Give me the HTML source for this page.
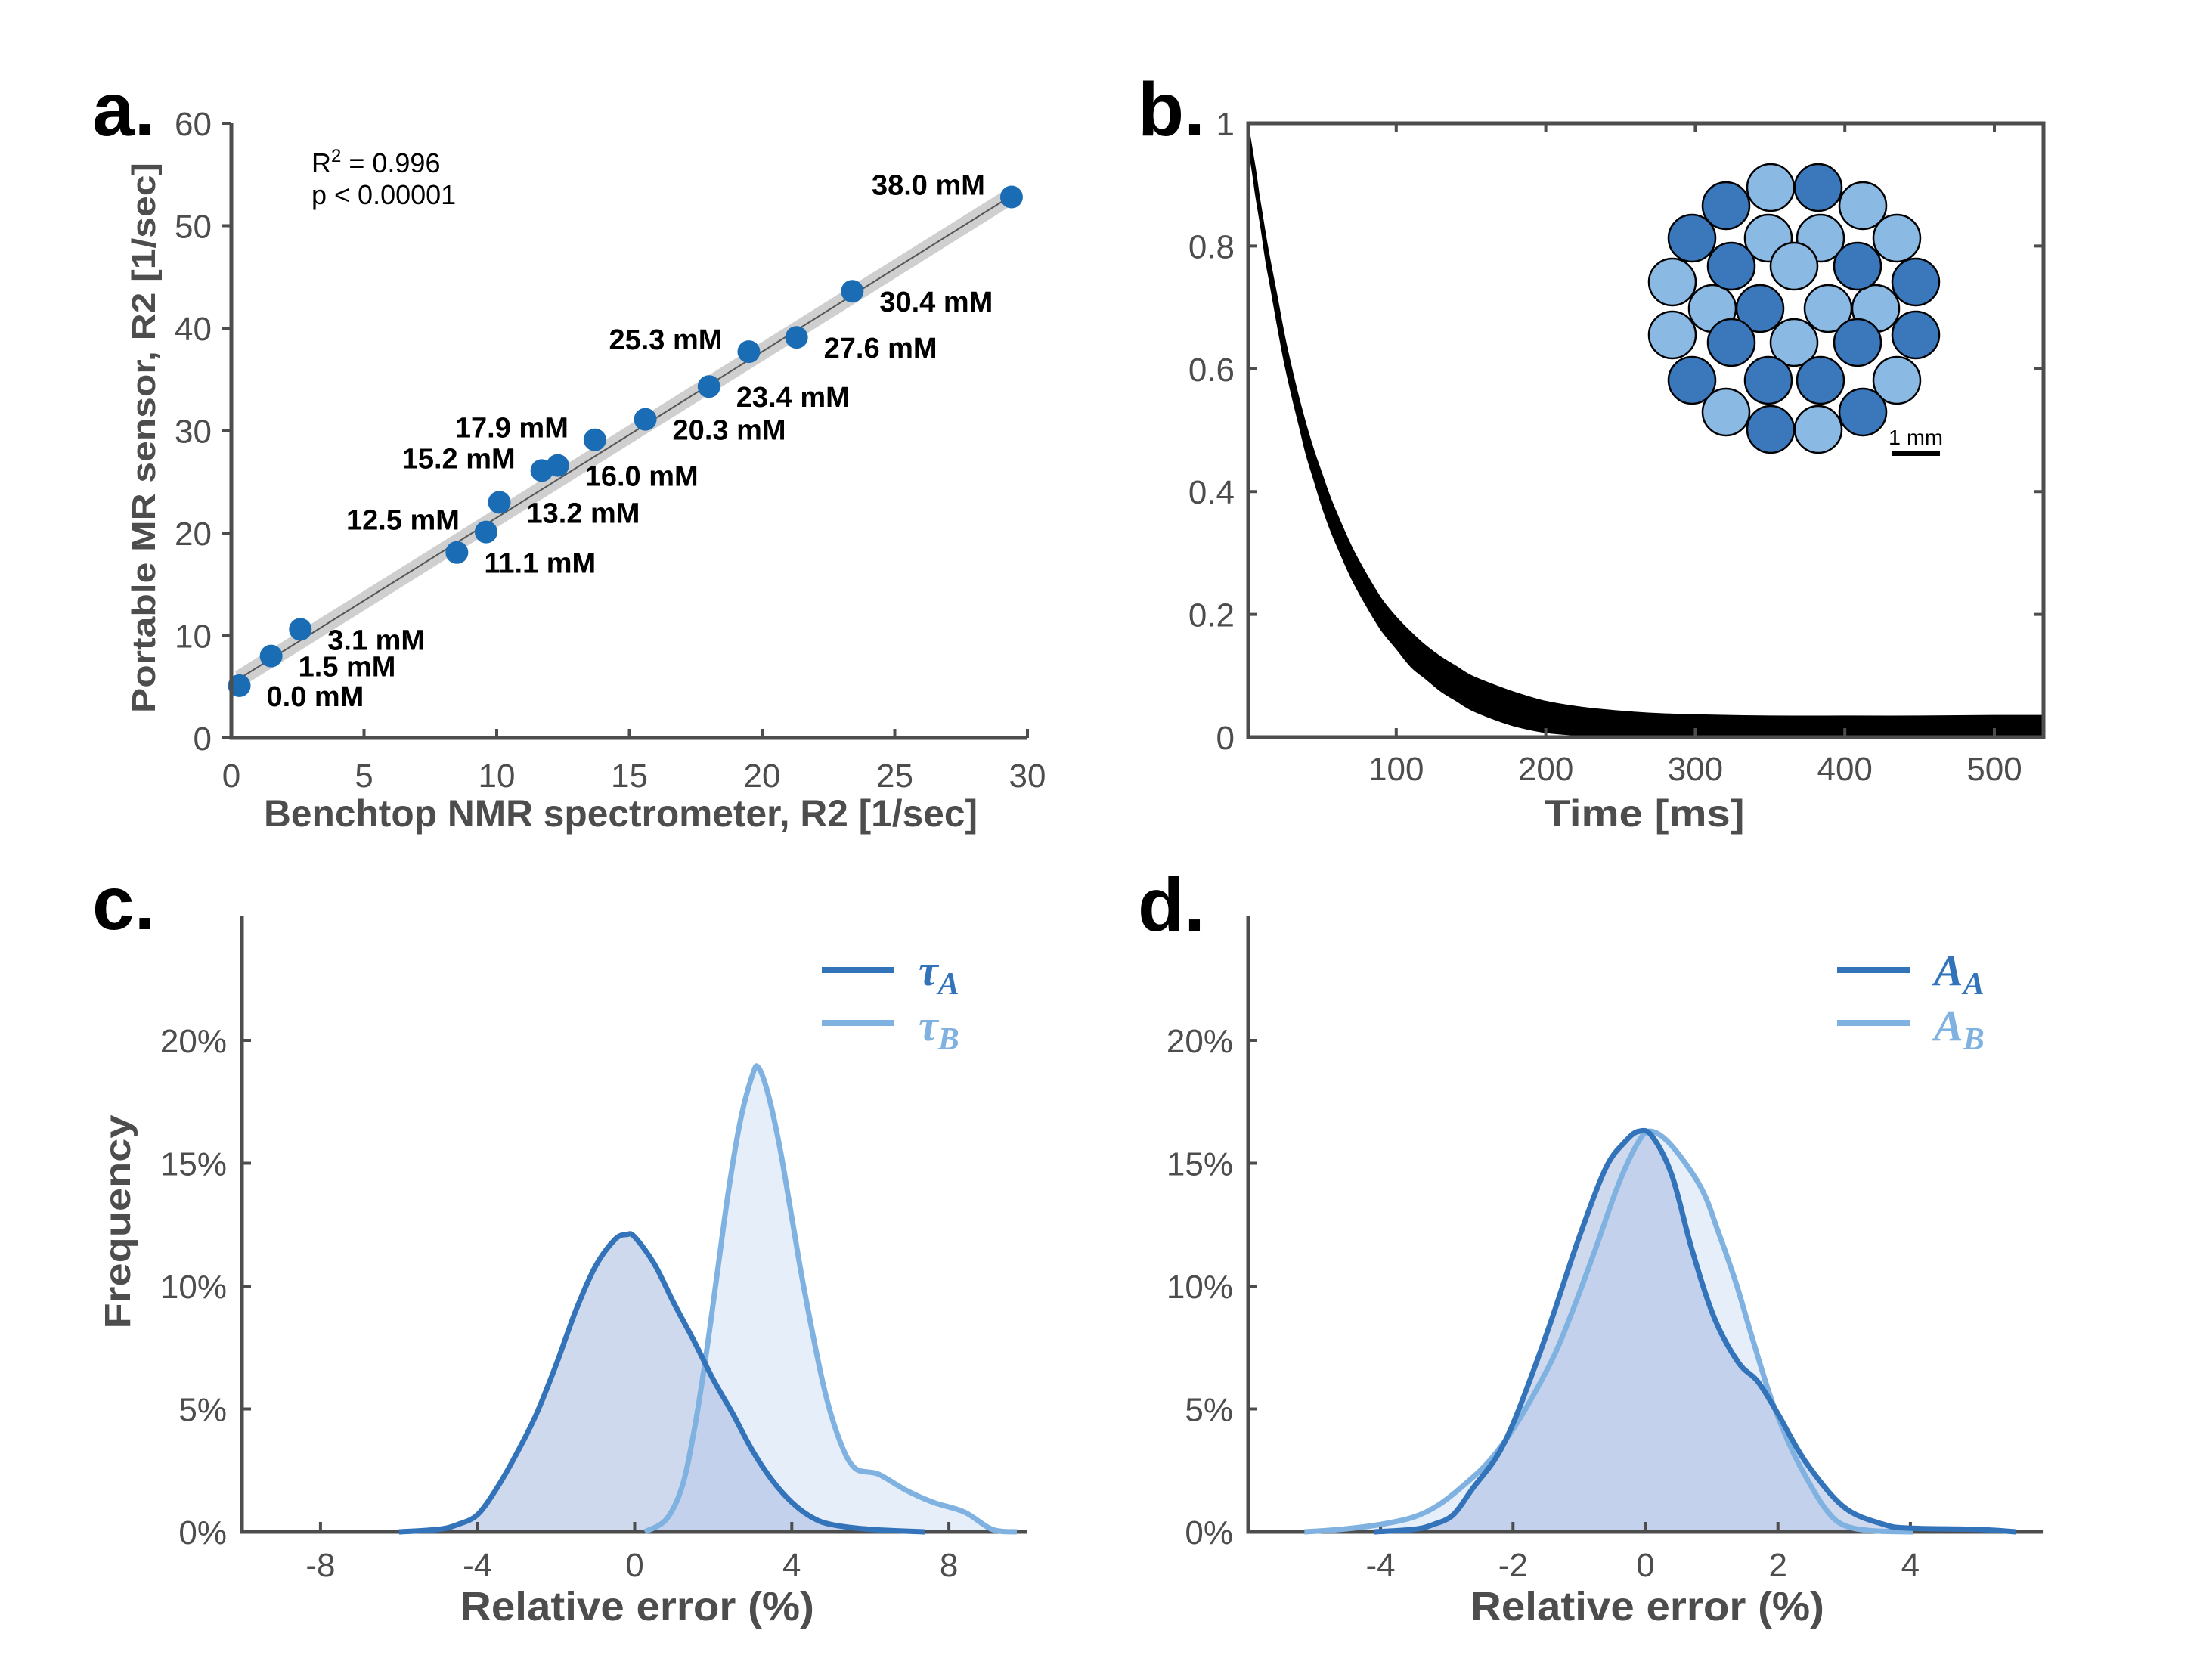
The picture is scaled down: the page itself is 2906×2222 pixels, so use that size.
<!DOCTYPE html>
<html><head><meta charset="utf-8"><style>
html,body{margin:0;padding:0;background:#fff;}
svg{display:block;}
text{font-family:"Liberation Sans",sans-serif;}
.tick{font-family:"Liberation Sans Narrow","Liberation Sans",sans-serif;font-size:44px;fill:#4d4d4d;}
.lab{font-family:"Liberation Sans Narrow","Liberation Sans",sans-serif;font-size:38px;font-weight:bold;fill:#000;}
.ttl{font-weight:bold;fill:#4d4d4d;}
.letter{font-weight:bold;font-size:100px;fill:#000;}
.leg{font-family:"Liberation Serif",serif;font-style:italic;font-weight:bold;}
</style></head><body>
<svg id="fig" width="2906" height="2222" viewBox="0 0 2906 2222" xmlns="http://www.w3.org/2000/svg">
<text class="letter" x="122" y="179">a.</text>
<text class="letter" x="1505" y="179">b.</text>
<text class="letter" x="122" y="1229">c.</text>
<text class="letter" x="1505" y="1231">d.</text>
<g id="pa"></g>
<g id="pb"></g>
<g id="pc"></g>
<g id="pd"></g>
</svg>
<script>
// ---- Panel a data ----
const aX = [0.3, 1.5, 2.6, 8.5, 9.6, 10.1, 11.7, 12.3, 13.7, 15.6, 18.0, 19.5, 21.3, 23.4, 29.4];
const aY = [5.1, 8.0, 10.6, 18.1, 20.1, 23.0, 26.1, 26.6, 29.1, 31.1, 34.3, 37.7, 39.1, 43.6, 52.8];
const aLabels = ["0.0 mM","1.5 mM","3.1 mM","11.1 mM","12.5 mM","13.2 mM","15.2 mM","16.0 mM","17.9 mM","20.3 mM","23.4 mM","25.3 mM","27.6 mM","30.4 mM","38.0 mM"];
const aSide = ["R","R","R","R","L","R","L","R","L","R","R","L","R","R","L"];
const aXTicks = [0,5,10,15,20,25,30];
const aYTicks = [0,10,20,30,40,50,60];
const aFit = [5.3, 1.62]; // intercept, slope
// ---- Panel b data ----
const bT = [1,2,4,6,8,10,13,16,20,25,30,35,40,45,50,55,60,70,80,90,100,110,120,130,140,150,165,180,200,225,250,275,300,350,400,450,500,532];
const bUpper = [1.0,0.98,0.95,0.92,0.885,0.855,0.81,0.77,0.72,0.655,0.6,0.55,0.505,0.465,0.43,0.395,0.365,0.31,0.265,0.225,0.195,0.17,0.148,0.13,0.115,0.1,0.085,0.072,0.058,0.048,0.042,0.038,0.036,0.034,0.034,0.034,0.035,0.035];
const bLower = [0.96,0.95,0.92,0.885,0.855,0.825,0.775,0.735,0.68,0.615,0.56,0.51,0.46,0.42,0.38,0.345,0.315,0.26,0.215,0.175,0.145,0.115,0.095,0.075,0.06,0.045,0.03,0.018,0.008,0.003,0,0,0,0,0,0,0,0];
const bXTicks = [100,200,300,400,500];
const bYTicks = [0,0.2,0.4,0.6,0.8,1];
const bYTickLabels = ["0","0.2","0.4","0.6","0.8","1"];
const bInsetLight = [[2342,248],[2464,272],[2339,315],[2408,315],[2509,315],[2373,352],[2212,373],[2265,408],[2418,408],[2481,408],[2212,443],[2373,453],[2509,503],[2283,545],[2405,568]];
const bInsetDark = [[2405,248],[2283,272],[2238,315],[2290,352],[2457,352],[2534,373],[2328,408],[2534,443],[2290,453],[2457,453],[2238,503],[2339,503],[2408,503],[2464,545],[2342,568]];
// ---- Panel c data ----
const cAx = [-6,-5,-4.5,-4,-3.5,-3,-2.5,-2,-1.5,-1,-0.5,-0.2,0,0.5,1,1.5,2,2.5,3,3.5,4,4.5,5,6,7.4];
const cAy = [0,0.1,0.3,0.7,1.8,3.2,4.8,6.8,9.0,10.8,11.9,12.1,12.0,10.9,9.3,7.8,6.2,4.8,3.3,2.1,1.2,0.6,0.3,0.1,0];
const cBx = [0.26,0.8,1.2,1.5,1.8,2.1,2.4,2.7,3.0,3.15,3.4,3.7,4.0,4.3,4.8,5.2,5.6,6.2,6.9,7.6,8.4,9.1,9.73];
const cBy = [0,0.5,1.8,4,7,10.5,14,16.8,18.6,18.9,17.8,15.6,12.8,10,6,3.8,2.6,2.35,1.7,1.2,0.8,0.1,0];
const cXTicks = [-8,-4,0,4,8];
const yPctTicks = [0,5,10,15,20];
// ---- Panel d data ----
const dAx = [-4.1,-3.5,-3.2,-2.9,-2.6,-2.26,-2,-1.7,-1.41,-1,-0.6,-0.3,-0.1,0.1,0.4,0.7,1.04,1.4,1.7,2.0,2.43,3,3.6,4,5,5.6];
const dAy = [0,0.1,0.3,0.7,1.8,3.0,4.4,6.5,8.7,12.0,14.8,15.9,16.3,16.1,14.5,11.5,8.7,6.9,6.1,4.8,2.8,1.0,0.3,0.15,0.1,0];
const dBx = [-5.15,-4.6,-4,-3.5,-3.12,-2.7,-2.32,-1.9,-1.41,-1.1,-0.77,-0.4,-0.1,0.09,0.4,0.84,1.1,1.37,1.6,1.9,2.2,2.43,2.7,2.97,3.4,4.04];
const dBy = [0,0.1,0.3,0.6,1.1,2.0,3.0,4.6,7.0,9.0,11.4,14.2,15.9,16.3,15.7,14.0,12.2,10.1,8.0,5.4,3.4,2.2,1.0,0.3,0.05,0];
const dXTicks = [-4,-2,0,2,4];

const NS = "http://www.w3.org/2000/svg";
function mk(parent, tag, attrs, txt){
  const e = document.createElementNS(NS, tag);
  for (const k in attrs) e.setAttribute(k, attrs[k]);
  if (txt !== undefined) e.textContent = txt;
  parent.appendChild(e);
  return e;
}
const AX = "#4d4d4d";
function smoothSeg(pts){
  let d = "";
  for (let i = 0; i < pts.length - 1; i++){
    const p0 = pts[Math.max(0,i-1)], p1 = pts[i], p2 = pts[i+1], p3 = pts[Math.min(pts.length-1,i+2)];
    const c1x = p1[0] + (p2[0]-p0[0])/6, c1y = p1[1] + (p2[1]-p0[1])/6;
    const c2x = p2[0] - (p3[0]-p1[0])/6, c2y = p2[1] - (p3[1]-p1[1])/6;
    d += " C" + c1x + "," + c1y + " " + c2x + "," + c2y + " " + p2[0] + "," + p2[1];
  }
  return d;
}
function smooth(pts){
  return "M" + pts[0][0] + "," + pts[0][1] + smoothSeg(pts);
}

// ===== Panel a =====
(function(){
  const g = document.getElementById("pa");
  const X = v => 306 + v*35.1, Y = v => 976 - v*13.55;
  const x0 = aX[0], x1 = aX[aX.length-1];
  const band = mk(g,"line",{x1:X(x0),y1:Y(aFit[0]+aFit[1]*x0),x2:X(x1),y2:Y(aFit[0]+aFit[1]*x1),stroke:"#cfcfcf","stroke-width":22});
  
  
  const fl = mk(g,"line",{x1:X(x0),y1:Y(aFit[0]+aFit[1]*x0),x2:X(x1),y2:Y(aFit[0]+aFit[1]*x1),stroke:"#555","stroke-width":2});
  
  
  aX.forEach((v,i)=>{
    const c = mk(g,"circle",{cx:X(v),cy:Y(aY[i]),r:15,fill:"#1a6cb5"});
    
    
    const L = aSide[i]==="L";
    const t = mk(g,"text",{class:"lab",x:L?X(v)-35:X(v)+36,y:L?Y(aY[i])-3:Y(aY[i])+27,"text-anchor":L?"end":"start"},aLabels[i]);
    
    
  });
  const ax = mk(g,"path",{d:"M306,163 V976 H1359",fill:"none",stroke:AX,"stroke-width":5});
  
  
  aXTicks.forEach(v=>{
    const tk = mk(g,"line",{x1:X(v),y1:976,x2:X(v),y2:964,stroke:AX,"stroke-width":4});
    
    
    const t = mk(g,"text",{class:"tick",x:X(v),y:1041,"text-anchor":"middle"},String(v));
    
    
  });
  aYTicks.forEach(v=>{
    const tk = mk(g,"line",{x1:306,y1:Y(v),x2:294,y2:Y(v),stroke:AX,"stroke-width":4});
    
    
    const t = mk(g,"text",{class:"tick",x:280,y:Y(v)+16,"text-anchor":"end"},String(v));
    
    
  });
  const r2 = mk(g,"text",{x:412,y:228,"font-size":36,fill:"#000"});
  r2.innerHTML = 'R<tspan dy="-14" font-size="24">2</tspan><tspan dy="14"> = 0.996</tspan>';
  
  
  const pv = mk(g,"text",{x:412,y:270,"font-size":36,fill:"#000"},"p < 0.00001");
  
  
  const xt = mk(g,"text",{class:"ttl",x:349,y:1093,"font-size":50,textLength:944,lengthAdjust:"spacingAndGlyphs"},"Benchtop NMR spectrometer, R2 [1/sec]");
  
  
  const yt = mk(g,"text",{class:"ttl",x:0,y:0,"font-size":44,"text-anchor":"middle",textLength:728,lengthAdjust:"spacingAndGlyphs",transform:"translate(205,579) rotate(-90)"},"Portable MR sensor, R2 [1/sec]");
  
  
})();

// ===== Panel b =====
(function(){
  const g = document.getElementById("pb");
  const X = v => 1649 + v*1.978, Y = v => 975 - v*812;
  const up = bT.map((t,i)=>[X(t),Y(bUpper[i])]);
  const low = bT.map((t,i)=>[X(t),Y(bLower[i])]).reverse();
  const d = smooth(up) + " L" + low[0][0] + "," + low[0][1] + smoothSeg(low) + " Z";
  const tr = mk(g,"path",{d:d,fill:"#000",stroke:"#000","stroke-width":2});
  
  
  const box = mk(g,"rect",{x:1651,y:163,width:1052,height:812,fill:"none",stroke:AX,"stroke-width":5});
  
  
  bXTicks.forEach(v=>{
    const tk = mk(g,"path",{d:"M"+X(v)+",975 v-12 M"+X(v)+",163 v12",stroke:AX,"stroke-width":4});
    
    
    const t = mk(g,"text",{class:"tick",x:X(v),y:1032,"text-anchor":"middle"},String(v));
    
    
  });
  bYTicks.forEach((v,i)=>{
    const tk = mk(g,"path",{d:"M1651,"+Y(v)+" h12 M2703,"+Y(v)+" h-12",stroke:AX,"stroke-width":4});
    
    
    const t = mk(g,"text",{class:"tick",x:1633,y:Y(v)+16,"text-anchor":"end"},bYTickLabels[i]);
    
    
  });
  const xt = mk(g,"text",{class:"ttl",x:2175,y:1093,"font-size":50,"text-anchor":"middle",textLength:265,lengthAdjust:"spacingAndGlyphs"},"Time [ms]");
  
  
  const inset = mk(g,"g",{});
  
  
  bInsetLight.forEach(p=>{
    const c = mk(inset,"circle",{cx:p[0],cy:p[1],r:31,fill:"#8ab9e3",stroke:"#000","stroke-width":2.5});
    
    
  });
  bInsetDark.forEach(p=>{
    const c = mk(inset,"circle",{cx:p[0],cy:p[1],r:31,fill:"#3a77bb",stroke:"#000","stroke-width":2.5});
    
    
  });
  const sb = mk(g,"rect",{x:2503,y:597,width:63,height:6,fill:"#000"});
  
  
  const st = mk(g,"text",{x:2534,y:588,"font-size":28,"text-anchor":"middle",fill:"#000",textLength:72,lengthAdjust:"spacingAndGlyphs"},"1 mm");
  
  
})();

// ===== Panels c & d =====
function kde(gid, axX, zeroX, perUnit, xmin, xmax, xTicks, sA, sB, legA, legB, yt){
  const g = document.getElementById(gid);
  const X = v => zeroX + v*perUnit, Y = v => 2026 - v*32.5;
  const pA = sA[0].map((v,i)=>[X(v),Y(sA[1][i])]);
  const pB = sB[0].map((v,i)=>[X(v),Y(sB[1][i])]);
  const fB = mk(g,"path",{d:smooth(pB)+" Z",fill:"rgba(200,218,244,0.45)"});
  
  
  const fA = mk(g,"path",{d:smooth(pA)+" Z",fill:"rgba(160,180,222,0.5)"});
  
  
  const ax = mk(g,"path",{d:"M"+axX+",1211 V2026 H"+X(xmax),fill:"none",stroke:AX,"stroke-width":5});
  
  
  xTicks.forEach(v=>{
    const tk = mk(g,"line",{x1:X(v),y1:2026,x2:X(v),y2:2013,stroke:AX,"stroke-width":4});
    
    
    const t = mk(g,"text",{class:"tick",x:X(v),y:2085,"text-anchor":"middle"},String(v));
    
    
  });
  yPctTicks.forEach(v=>{
    const tk = mk(g,"line",{x1:axX,y1:Y(v),x2:axX+12,y2:Y(v),stroke:AX,"stroke-width":4});
    
    
    const t = mk(g,"text",{class:"tick",x:axX-20,y:Y(v)+16,"text-anchor":"end"},v+"%");
    
    
  });
  const lB = mk(g,"path",{d:smooth(pB),fill:"none",stroke:"#7fb2e0","stroke-width":7,"stroke-linejoin":"round"});
  
  
  const lA = mk(g,"path",{d:smooth(pA),fill:"none",stroke:"#3373ba","stroke-width":7,"stroke-linejoin":"round"});
  
  
  const xt = mk(g,"text",{class:"ttl",x:yt.cx,y:2143,"font-size":54,"text-anchor":"middle",textLength:468,lengthAdjust:"spacingAndGlyphs"},"Relative error (%)");
  
  
  const lg = mk(g,"g",{});
  
  
  [[legA,"#3373ba",1283,1303],[legB,"#7fb2e0",1353,1376]].forEach((e,i)=>{
    const ln = mk(lg,"line",{x1:yt.lx,y1:e[2],x2:yt.lx+96,y2:e[2],stroke:e[1],"stroke-width":8});
    
    
    const t = mk(lg,"text",{class:"leg",x:yt.lx+128,y:e[3],"font-size":58,fill:e[1]});
    t.innerHTML = e[0][0] + '<tspan dy="12" font-size="42">' + e[0][1] + '</tspan>';
    
    
  });
}
kde("pc", 320, 839.5, 51.95, -10, 10, cXTicks, [cAx,cAy], [cBx,cBy], ["τ","A"], ["τ","B"], {cx:843, lx:1087});
kde("pd", 1651, 2176.5, 87.6, -6, 6, dXTicks, [dAx,dAy], [dBx,dBy], ["A","A"], ["A","B"], {cx:2179, lx:2430});
(function(){
  const g = document.getElementById("pc");
  const yt = mk(g,"text",{class:"ttl",x:0,y:0,"font-size":48,"text-anchor":"middle",textLength:283,lengthAdjust:"spacingAndGlyphs",transform:"translate(172,1616) rotate(-90)"},"Frequency");
  
  
})();
</script>
</body></html>
